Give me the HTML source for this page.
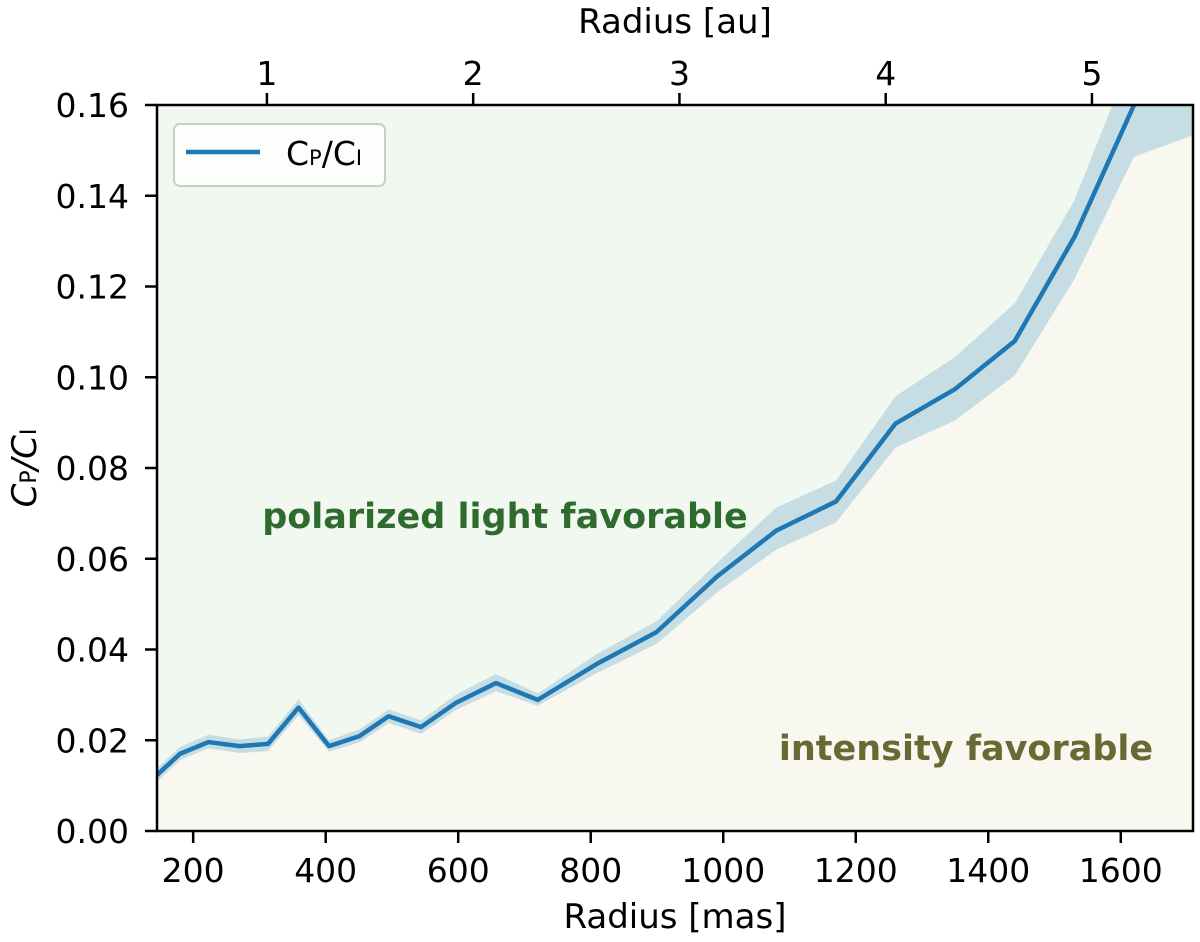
<!DOCTYPE html>
<html><head><meta charset="utf-8"><style>
body{margin:0;background:#fff;}
svg{display:block;font-family:"DejaVu Sans","Liberation Sans",sans-serif;}
</style></head><body>
<svg id="chart" width="1200" height="942" viewBox="0 0 1200 942">
<defs><clipPath id="clip"><rect x="157" y="105" width="1036" height="726"/></clipPath></defs>
<g id="bg" clip-path="url(#clip)"></g>
<g id="marks" clip-path="url(#clip)"></g>
<g id="axes"></g>
</svg>
<script>
const radiusMas=[145,180,223,270,313,359,405,451,495,544,596,657,720,809,899,990,1080,1170,1260,1350,1440,1530,1620,1710];
const ratio=[0.0123,0.0170,0.0196,0.0187,0.0192,0.0272,0.0187,0.0209,0.0253,0.0229,0.0282,0.0326,0.0289,0.0368,0.0438,0.0560,0.0662,0.0726,0.0898,0.0974,0.1080,0.1309,0.1600,0.1750];
const upper=[0.0138,0.0185,0.0212,0.0202,0.0208,0.0290,0.0200,0.0224,0.0268,0.0244,0.0300,0.0346,0.0303,0.0390,0.0462,0.0590,0.0713,0.0772,0.0958,0.1045,0.1163,0.1390,0.1720,0.2000];
const lower=[0.0108,0.0156,0.0182,0.0172,0.0176,0.0255,0.0175,0.0195,0.0238,0.0214,0.0266,0.0308,0.0276,0.0348,0.0412,0.0525,0.0620,0.0680,0.0845,0.0905,0.1004,0.1216,0.1486,0.1534];
const yTicks=[0,0.02,0.04,0.06,0.08,0.10,0.12,0.14,0.16];
const xTicks=[200,400,600,800,1000,1200,1400,1600];
const auTicks=[1,2,3,4,5];
const masPerAu=311.3;

const L=157,R=1193,T=105,B=831,xmin=145.4,xmax=1709,ymax=0.16;
const X=v=>L+(v-xmin)/(xmax-xmin)*(R-L);
const Y=v=>B-v/ymax*(B-T);
const NS="http://www.w3.org/2000/svg";
function mk(tag,attrs,parent){const e=document.createElementNS(NS,tag);for(const k in attrs)e.setAttribute(k,attrs[k]);parent.appendChild(e);return e;}
const bg=document.getElementById('bg'),marks=document.getElementById('marks'),axes=document.getElementById('axes');

let r=mk('rect',{x:L,y:T,width:R-L,height:B-T,fill:'#f1f8ef'},bg);


let dLow='M'+L+','+B+' '+radiusMas.map((m,i)=>'L'+X(m)+','+Y(lower[i])).join(' ')+' L'+X(radiusMas[radiusMas.length-1])+','+B+'Z';
let p=mk('path',{d:dLow,fill:'#f9f8f0'},bg);



let dBand=radiusMas.map((m,i)=>(i?'L':'M')+X(m)+','+Y(upper[i])).join(' ')+' '+radiusMas.slice().reverse().map((m,j)=>{const i=radiusMas.length-1-j;return 'L'+X(m)+','+Y(lower[i]);}).join(' ')+'Z';
p=mk('path',{d:dBand,fill:'#1f77b4','fill-opacity':0.2},marks);


p=mk('polyline',{points:radiusMas.map((m,i)=>X(m)+','+Y(ratio[i])).join(' '),fill:'none',stroke:'#1f77b4','stroke-width':4.5,'stroke-linejoin':'round'},marks);



let t=mk('text',{x:505,y:528,'text-anchor':'middle','font-size':35,'font-weight':'bold',fill:'#2f6b2f'},marks);
t.textContent='polarized light favorable';


t=mk('text',{x:966,y:760,'text-anchor':'middle','font-size':35,'font-weight':'bold',fill:'#676a33'},marks);
t.textContent='intensity favorable';



// legend
let lg=mk('g',{},axes);


mk('rect',{x:174,y:124,width:211,height:62,rx:6,fill:'#fff','fill-opacity':0.8,stroke:'#ccc','stroke-width':2},lg);
mk('line',{x1:186,y1:152,x2:260,y2:152,stroke:'#1f77b4','stroke-width':4.5},lg);
t=mk('text',{x:286,y:165,'font-size':33},lg);
t.innerHTML='C<tspan font-size="21">P</tspan>/C<tspan font-size="21">I</tspan>';



r=mk('rect',{x:L,y:T,width:R-L,height:B-T,fill:'none',stroke:'#000','stroke-width':2.5},axes);



yTicks.forEach(v=>{
  mk('line',{x1:L-12,y1:Y(v),x2:L,y2:Y(v),stroke:'#000','stroke-width':2.5},axes);
  let tt=mk('text',{x:129,y:Y(v)+12,'text-anchor':'end','font-size':33},axes);
  tt.textContent=v.toFixed(2);
  
  
});
xTicks.forEach(v=>{
  mk('line',{x1:X(v),y1:B,x2:X(v),y2:B+12,stroke:'#000','stroke-width':2.5},axes);
  let tt=mk('text',{x:X(v),y:882,'text-anchor':'middle','font-size':33},axes);
  tt.textContent=v;
  
  
});
auTicks.forEach(v=>{
  const x=X(v*masPerAu);
  mk('line',{x1:x,y1:T-12,x2:x,y2:T,stroke:'#000','stroke-width':2.5},axes);
  let tt=mk('text',{x:x,y:T-20,'text-anchor':'middle','font-size':33},axes);
  tt.textContent=v;
  
  
});
t=mk('text',{x:675,y:33,'text-anchor':'middle','font-size':34},axes);
t.textContent='Radius [au]';


t=mk('text',{x:675,y:928,'text-anchor':'middle','font-size':34},axes);
t.textContent='Radius [mas]';


t=mk('text',{x:0,y:0,'text-anchor':'middle','font-size':34,'font-style':'italic',transform:'translate(36,468) rotate(-90)'},axes);
t.innerHTML='C<tspan font-size="22" font-style="normal">P</tspan>/C<tspan font-size="22" font-style="normal">I</tspan>';


</script>
</body></html>
